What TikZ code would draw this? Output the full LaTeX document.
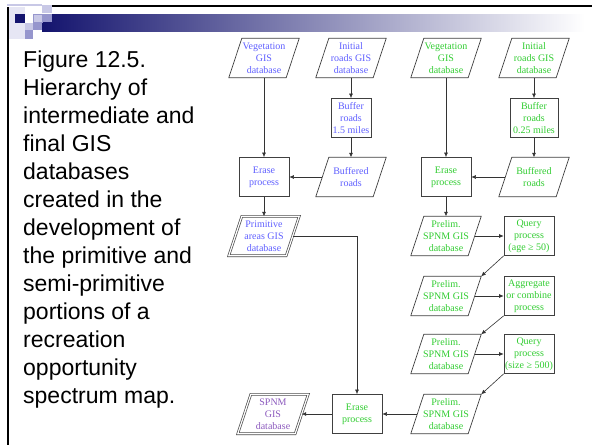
\documentclass[tikz,border=0pt]{standalone}
\usepackage{fontspec}
\setmainfont{Liberation Serif}
\newfontfamily\capfont{Liberation Sans}
\usetikzlibrary{arrows.meta,calc}
\definecolor{tblue}{RGB}{95,95,255}
\definecolor{tgreen}{RGB}{50,205,50}
\definecolor{tpurple}{RGB}{140,90,190}
\definecolor{navy}{RGB}{20,20,110}
\definecolor{lav}{RGB}{200,200,230}
\definecolor{lavm}{RGB}{150,150,205}
\definecolor{edgec}{RGB}{64,64,64}
\begin{document}
\begin{tikzpicture}[x=1pt,y=-1pt,
 txt/.style={font=\fontsize{10}{11.9}\selectfont, align=center, inner sep=0pt},
 procbox/.style={txt, draw=edgec, line width=0.7pt, minimum height=39pt},
 databox/.style={txt, minimum width=57pt, minimum height=39pt},
 conn/.style={draw=black!80, line width=0.6pt, -{Latex[length=4.5pt,width=4pt]}},
 pline/.style={draw=edgec, line width=0.7pt},
 dline/.style={draw=black!70, double=white, line width=0.7pt, double distance=1.2pt}]
\useasboundingbox (0,0) rectangle (592,445);
\fill[white] (0,0) rectangle (592,445);
% header
\fill[left color=navy, right color=white] (42,14) rectangle (585,31);
\fill[lav!45] (9,7) rectangle (25,39);
\fill[lav] (7,4) rectangle (42,5.5);
\fill[navy] (15,14) rectangle (25,23);
\filldraw[fill=lav, draw=lavm] (33,14) rectangle (42,22);
\fill[lav] (42,5) rectangle (52,13);
\fill[lavm] (42,14) rectangle (52,22);
\fill[lav] (25,23) rectangle (33,30);
\fill[lavm] (33,23) rectangle (42,30);
\fill[lavm] (25,30) rectangle (33,39);
\draw[line width=2pt] (8,7) -- (8,445);
\draw[line width=2pt] (52,6) -- (592,6);
% caption
\node[anchor=north west, inner sep=0pt, align=left, font=\capfont\fontsize{23}{28}\selectfont] (cap) at (23,50.5)
 {Figure 12.5.\\Hierarchy of\\intermediate and\\final GIS\\databases\\created in the\\development of\\the primitive and\\semi-primitive\\portions of a\\recreation\\opportunity\\spectrum map.};
% blue part
\node[databox, text=tblue] (veg1) at (264,58) {Vegetation\\GIS\\database};
\node[databox, text=tblue] (ini1) at (351,58) {Initial\\roads GIS\\database};
\node[procbox, text=tblue, minimum width=40pt] (buf1) at (351,118) {Buffer\\roads\\1.5 miles};
\node[procbox, text=tblue, minimum width=50pt] (er1) at (264,177) {Erase\\process};
\node[databox, text=tblue] (bfd1) at (351,177) {Buffered\\roads};
\node[databox, text=tblue] (prim) at (264,236) {Primitive\\areas GIS\\database};
% green part
\node[databox, text=tgreen] (veg2) at (446,58) {Vegetation\\GIS\\database};
\node[databox, text=tgreen] (ini2) at (534,58) {Initial\\roads GIS\\database};
\node[procbox, text=tgreen, minimum width=48pt] (buf2) at (534,118) {Buffer\\roads\\0.25 miles};
\node[procbox, text=tgreen, minimum width=50pt] (er2) at (446,177) {Erase\\process};
\node[databox, text=tgreen] (bfd2) at (534,177) {Buffered\\roads};
\node[databox, text=tgreen] (pre1) at (446,236) {Prelim.\\SPNM GIS\\database};
\node[procbox, text=tgreen, minimum width=50pt] (q1) at (529,236) {Query\\process\\(age ≥ 50)};
\node[databox, text=tgreen] (pre2) at (446,296) {Prelim.\\SPNM GIS\\database};
\node[procbox, text=tgreen, minimum width=50pt] (agg) at (529,296) {Aggregate\\or combine\\process};
\node[databox, text=tgreen] (pre3) at (446,354) {Prelim.\\SPNM GIS\\database};
\node[procbox, text=tgreen, minimum width=50pt] (q2) at (529,354) {Query\\process\\(size ≥ 500)};
\node[databox, text=tgreen] (pre4) at (446,414) {Prelim.\\SPNM GIS\\database};
\node[procbox, text=tgreen, minimum width=50pt] (er3) at (357,414) {Erase\\process};
\node[databox, text=tpurple] (spnm) at (273,414) {SPNM\\GIS\\database};
% parallelograms
\foreach \n in {veg1,ini1,bfd1,veg2,ini2,bfd2,pre1,pre2,pre3,pre4}
 \draw[pline] ([xshift=-6.5pt]\n.south west) -- ([xshift=6.5pt]\n.north west) -- ([xshift=6.5pt]\n.north east) -- ([xshift=-6.5pt]\n.south east) -- cycle;
\foreach \n in {prim,spnm}
 \draw[dline] ([xshift=-6.5pt]\n.south west) -- ([xshift=6.5pt]\n.north west) -- ([xshift=6.5pt]\n.north east) -- ([xshift=-6.5pt]\n.south east) -- cycle;
% connectors
\draw[conn] (veg1) -- (er1);
\draw[conn] (ini1) -- (buf1);
\draw[conn] (buf1) -- (bfd1);
\draw[conn] (bfd1) -- (er1);
\draw[conn] (er1) -- (prim);
\draw[conn] (prim.east) -| (er3.north);
\draw[conn] (veg2) -- (er2);
\draw[conn] (ini2) -- (buf2);
\draw[conn] (buf2) -- (bfd2);
\draw[conn] (bfd2) -- (er2);
\draw[conn] (er2) -- (pre1);
\draw[conn] (pre1) -- (q1);
\draw[conn] (q1.south west) -- ([xshift=6.5pt]pre2.north east);
\draw[conn] (pre2) -- (agg);
\draw[conn] (agg.south west) -- ([xshift=6.5pt]pre3.north east);
\draw[conn] (pre3) -- (q2);
\draw[conn] (q2.south west) -- ([xshift=6.5pt]pre4.north east);
\draw[conn] (pre4) -- (er3);
\draw[conn] (er3) -- (spnm);
\end{tikzpicture}
\end{document}
